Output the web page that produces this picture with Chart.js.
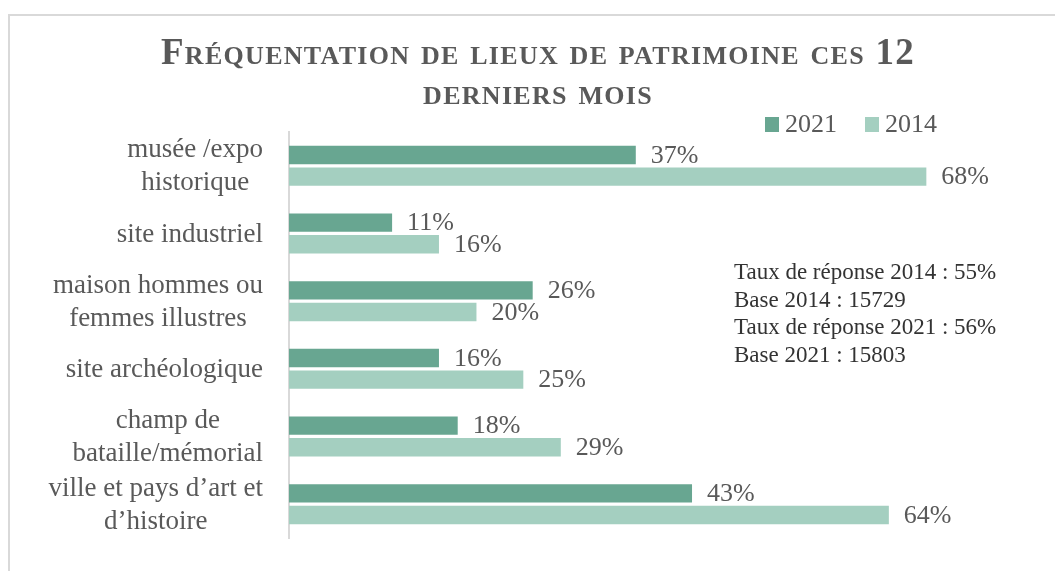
<!DOCTYPE html>
<html>
<head>
<meta charset="utf-8">
<script src="https://cdn.jsdelivr.net/npm/chart.js@4"></script>
<style>
  html, body { margin: 0; padding: 0; background: #fff; overflow: hidden; }
  #box {
    position: absolute; left: 8px; top: 14px;
    width: 1060px; height: 555px;
    border-top: 2px solid #d9d9d9; border-left: 2px solid #d9d9d9;
  }
</style>
</head>
<body>
<div id="box"><canvas id="chart"></canvas></div>
<script>
// Chart data
const categories = [
    ['musée /expo', 'historique'],
    ['site industriel'],
    ['maison hommes ou', 'femmes illustres'],
    ['site archéologique'],
    ['champ de', 'bataille/mémorial'],
    ['ville et pays d’art et', 'd’histoire']
];
const seriesNames = ['2021', '2014'];
const values2021 = [37, 11, 26, 16, 18, 43];
const values2014 = [68, 16, 20, 25, 29, 64];
const notes = [
    'Taux de réponse 2014 : 55%',
    'Base 2014 : 15729',
    'Taux de réponse 2021 : 56%',
    'Base 2021 : 15803'
];

const colors = ['#68a691', '#a4cfc0'];
const serif = '"Liberation Serif", "DejaVu Serif", serif';

// a bit of letter spacing for the title only
const titleSpacing = {
    id: 'titleSpacing',
    beforeDraw(chart) { chart.ctx.letterSpacing = '1.3px'; },
    beforeDatasetsDraw(chart) { chart.ctx.letterSpacing = '0px'; }
};

// Category labels, value labels, legend and notes drawn on the canvas
const drawExtras = {
    id: 'drawExtras',
    afterDatasetsDraw(chart) {
        const ctx = chart.ctx;
        const yScale = chart.scales.y;
        const area = chart.chartArea;
        ctx.save();
        ctx.letterSpacing = '0px';

        // category labels: block right-aligned, lines centred
        ctx.font = '27px ' + serif;
        ctx.fillStyle = '#595959';
        ctx.textAlign = 'center';
        ctx.textBaseline = 'middle';
        categories.forEach((lines, i) => {
            const yc = yScale.getPixelForValue(i);
            const w = Math.max(...lines.map(l => ctx.measureText(l).width));
            const xc = area.left - 26 - w / 2;
            lines.forEach((line, k) => {
                ctx.fillText(line, xc, yc + 1 + (k - (lines.length - 1) / 2) * 33);
            });
        });

        // value labels
        ctx.font = '26px ' + serif;
        ctx.textAlign = 'left';
        chart.data.datasets.forEach((ds, di) => {
            chart.getDatasetMeta(di).data.forEach((bar, j) => {
                ctx.fillText(ds.data[j] + '%', bar.x + 15, bar.y + 1);
            });
        });

        // legend
        ctx.textBaseline = 'alphabetic';
        let x = 755;
        chart.data.datasets.forEach((ds) => {
            ctx.fillStyle = ds.backgroundColor;
            ctx.fillRect(x, 101, 14, 15);
            ctx.fillStyle = '#595959';
            ctx.fillText(ds.label, x + 20, 116);
            x += 20 + ctx.measureText(ds.label).width + 28;
        });

        // notes
        ctx.font = '23px ' + serif;
        ctx.fillStyle = '#333333';
        notes.forEach((line, k) => {
            ctx.fillText(line, 724, 263 + k * 27.5);
        });

        ctx.restore();
    }
};

const ctx = document.getElementById('chart').getContext('2d');
new Chart(ctx, {
    type: 'bar',
    data: {
        labels: categories,
        datasets: [
            { label: seriesNames[0], data: values2021, backgroundColor: colors[0] },
            { label: seriesNames[1], data: values2014, backgroundColor: colors[1] }
        ]
    },
    options: {
        indexAxis: 'y',
        responsive: true,
        maintainAspectRatio: false,
        animation: false,
        categoryPercentage: 0.64,
        barPercentage: 0.85,
        layout: {
            padding: { left: 0, right: 4, top: 0, bottom: 33 }
        },
        scales: {
            x: {
                display: false,
                min: 0,
                max: 82.9
            },
            y: {
                grid: { display: false },
                ticks: { display: false },
                border: { display: true, color: '#d9d9d9', width: 2 },
                afterFit: (scale) => { scale.width = 279; }
            }
        },
        plugins: {
            legend: { display: false },
            tooltip: { enabled: false },
            title: {
                display: true,
                text: ['Fréquentation de lieux de patrimoine ces 12', 'derniers mois'],
                color: '#595959',
                font: { family: serif, size: 37, weight: 'small-caps bold', lineHeight: 1.081 },
                padding: { top: 18, bottom: 18 }
            }
        }
    },
    plugins: [titleSpacing, drawExtras]
});
</script>
</body>
</html>
